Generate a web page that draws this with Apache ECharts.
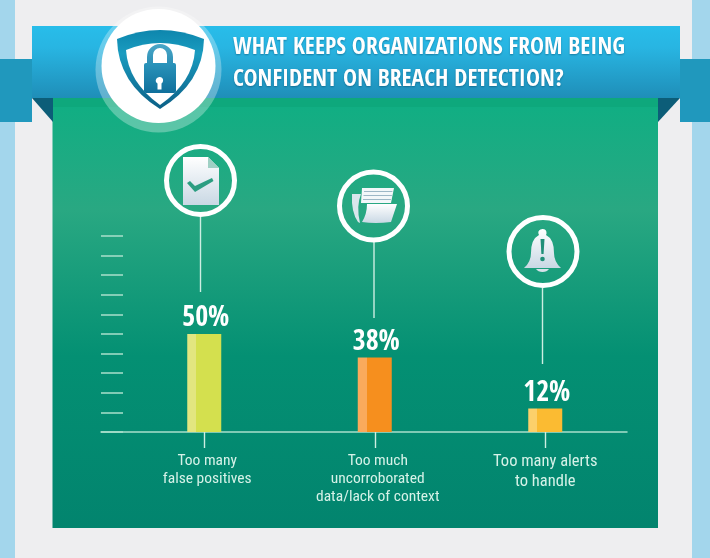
<!DOCTYPE html>
<html><head><meta charset="utf-8">
<style>html,body{margin:0;padding:0;background:#eeeef0}#c{width:710px;height:558px}</style>
<script src="https://cdn.jsdelivr.net/npm/echarts@6/dist/echarts.min.js"></script></head>
<body><div id="c"></div>
<script>
const categories = ['Too many\nfalse positives', 'Too much\nuncorroborated\ndata/lack of context', 'Too many alerts\nto handle'];
const values = [50, 38, 12];
const valueLabels = ['50%', '38%', '12%'];
const barMain = ['#d4e04e', '#f68f1e', '#fbbb32'];
const barLight = ['#e2e680', '#faaa5c', '#fcd06a'];
const titleText = 'WHAT KEEPS ORGANIZATIONS FROM BEING\nCONFIDENT ON BREACH DETECTION?';

const HEAD = '"Open Sans Condensed","Roboto Condensed",sans-serif';
const BODY = '"Roboto Condensed","Open Sans Condensed",sans-serif';
const rectEl = (x, y, width, height, fill, extra) => Object.assign({type:'rect', shape:{x,y,width,height}, style:{fill}, silent:true}, extra||{});
const vgrad = stops => ({type:'linear',x:0,y:0,x2:0,y2:1,colorStops:stops.map(s=>({offset:s[0],color:s[1]}))});
const ring = (cx,cy,r) => ({type:'circle', shape:{cx,cy,r}, style:{fill:'rgba(0,0,0,0)',stroke:'#fff',lineWidth:5}, silent:true, z:5});
const stem = (x,y1,y2) => ({type:'line', shape:{x1:x,y1,x2:x,y2}, style:{stroke:'#cdeee2',lineWidth:1.4}, silent:true, z:5});
const iconFill = vgrad([[0,'#ffffff'],[1,'#c9d8e4']]);
let shapeId = 0;
const pathEl = (d, fill, z) => {
  const name = 'artPath' + (shapeId++);
  echarts.graphic.registerShape(name, echarts.graphic.extendPath(d, {}));
  return {type:name, style:{fill}, silent:true, z:z||6};
};

const graphic = [
  rectEl(15,0,677,558,'#eeeef0'),
  rectEl(0,0,15,558,'#a3d6ec'),
  rectEl(692,0,18,558,'#a3d6ec'),
  rectEl(0,59,32,63,'#2098bd'),
  rectEl(680,59,30,63,'#2098bd'),
  rectEl(52.5,98,605.5,430,'#000',{style:{fill:vgrad([[0,'#0ea97c'],[0.02,'#11ae83'],[0.26,'#29a882'],[0.6,'#049073'],[1,'#02846e']])}}),
  rectEl(52.5,98,605.5,9,'#0ea87c'),
  rectEl(32,26,648,72,'#000',{style:{fill:vgrad([[0,'#28bdea'],[0.3,'#28b5e2'],[1,'#1f8eb8']])}, z:1}),
  {type:'polygon',shape:{points:[[32,98],[53,98],[53,122]]},style:{fill:'#0c5d78'},silent:true,z:1},
  {type:'polygon',shape:{points:[[680,98],[658,98],[658,122]]},style:{fill:'#0c5d78'},silent:true,z:1},
  {type:'circle',shape:{cx:158.5,cy:69.5,r:63},style:{fill:'rgba(255,255,255,0.3)'},silent:true,z:2},
  {type:'circle',shape:{cx:158.5,cy:66,r:57},style:{fill:'#fff'},silent:true,z:3},
  pathEl('M117 39 Q160 21 204 39 Q203 83 160 109 Q118 83 117 39 Z', vgrad([[0,'#0d86ad'],[0.3,'#1a9cc0'],[1,'#0b5f86']]), 4),
  pathEl('M126 50 Q160 36 195 50 Q193 82 160 105 Q128 82 126 50 Z', '#fff', 4),
  pathEl('M147 66 L147 57 A13 13 0 0 1 173 57 L173 66 L167 66 L167 55 A7 7 0 0 0 153 55 L153 66 Z', vgrad([[0,'#4aa7c8'],[1,'#2a8db4']]), 5),
  rectEl(144,63,32,30,'#000',{style:{fill:vgrad([[0,'#2a94bb'],[1,'#0f6f9b']])},shape:{x:144,y:63,width:32,height:30,r:2},z:5}),
  pathEl('M159.5 77 a3.6 3.6 0 0 1 2 6.6 l0 6 h-4 l0 -6 a3.6 3.6 0 0 1 2 -6.6 Z', '#fff', 6),

  stem(200.5,217,292), stem(374,242,318), stem(542.5,288,364),
  ring(200.5,180.5,34), ring(373.5,206,34), ring(543,251.5,34),

  pathEl('M183 157 L208 157 L219 168 L219 205 L183 205 Z', iconFill),
  pathEl('M208 157 L219 168 L208 168 Z', '#9fd0c4', 7),
  pathEl('M187 183 L190 181 L195 186 L212 178 L213.5 181 L195 192 Z', '#2c9e82', 7),

  pathEl('M362 188 L394 188 L391 203 L361 203 Z', '#f3f7f9'),
  pathEl('M364 191 L392.5 191 L392.3 192 L364 192 Z M363.5 195 L392 195 L391.8 196 L363.5 196 Z M363 199 L391 199 L390.8 200 L363 200 Z', '#9db7c6', 7),
  pathEl('M367 204 L397 204 L391 222 Q375 224 362 222 Q367 214 367 204 Z', iconFill),
  pathEl('M352 194 L361 194 Q356 206 360 223 L358 222 Q351 212 352 194 Z', '#d9e6ec'),

  pathEl('M542.5 229 a4 4 0 0 1 3.5 6 Q554 239 554 253 Q554 262 561 268 L524 268 Q531 262 531 253 Q531 239 539 235 a4 4 0 0 1 3.5 -6 Z', iconFill),
  pathEl('M536 269 L549 269 Q547 272 542.5 272 Q538 272 536 269 Z', '#d7e2ea'),
  pathEl('M540.5 239 L544.5 239 L543.6 254 L541.4 254 Z', '#1f8f78', 7),
  {type:'circle',shape:{cx:542.5,cy:259,r:2.3},style:{fill:'#1f8f78'},silent:true,z:7}
];

const rich = {
  a:{fontFamily:BODY,fontSize:15.5,lineHeight:18,color:'#d6f2e8',padding:[0,0,0,6]},
  b:{fontFamily:BODY,fontSize:16.5,lineHeight:20,color:'#d6f2e8'}
};

const option = {
  animation:false,
  backgroundColor:'#eeeef0',
  title:{text:titleText,left:228,top:27,itemGap:0,textStyle:{fontFamily:HEAD,fontWeight:'bold',fontSize:23.6,lineHeight:32,color:'#fff',textShadowColor:'rgba(0,60,90,0.45)',textShadowBlur:2,textShadowOffsetY:1}},
  graphic,
  grid:[
    {left:101,width:526,top:236,height:196},
    {left:119,width:511.5,top:236,height:196}
  ],
  xAxis:[
    {gridIndex:0,type:'category',data:categories,axisLine:{lineStyle:{color:'#a9e0cc',width:1.5}},axisTick:{show:false},axisLabel:{show:false}},
    {gridIndex:1,type:'category',data:categories,axisLine:{show:false},
     axisTick:{show:true,alignWithLabel:true,length:16,lineStyle:{color:'#cdeee2',width:1.4}},
     axisLabel:{margin:20,interval:0,rich,formatter:(v,i)=>v.split('\n').map(s=>`{${i===2?'b':'a'}|${s}}`).join('\n')}}
  ],
  yAxis:[
    {gridIndex:0,type:'value',min:0,max:100,interval:10,axisLine:{show:false},splitLine:{show:false},axisLabel:{show:false},
     axisTick:{show:true,inside:true,length:22,lineStyle:{color:'#a9e0cc',width:1.5}}},
    {gridIndex:1,type:'value',min:0,max:100,interval:10,show:false}
  ],
  series:[{
    type:'bar',xAxisIndex:1,yAxisIndex:1,barWidth:34,
    data:values.map((v,i)=>({value:v,itemStyle:{color:{type:'linear',x:0,y:0,x2:1,y2:0,colorStops:[
      {offset:0,color:barLight[i]},{offset:0.26,color:barLight[i]},{offset:0.26,color:barMain[i]},{offset:1,color:barMain[i]}]}}})),
    label:{show:true,position:'top',distance:1,offset:[1.5,0],formatter:p=>valueLabels[p.dataIndex],fontFamily:HEAD,fontWeight:'bold',fontSize:28,color:'#fff'}
  }]
};
echarts.init(document.getElementById('c')).setOption(option);
</script></body></html>
